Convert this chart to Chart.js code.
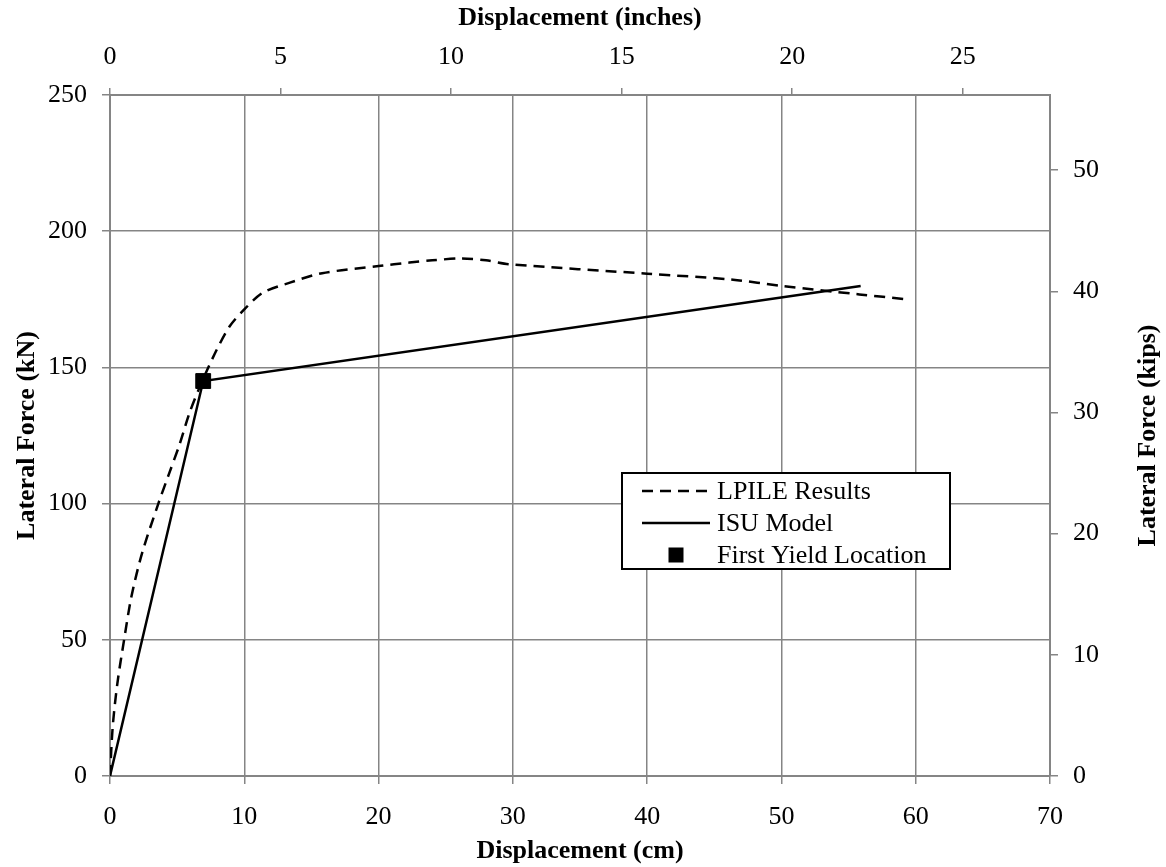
<!DOCTYPE html>
<html>
<head>
<meta charset="utf-8">
<script src="https://cdn.jsdelivr.net/npm/chart.js@4.4.1/dist/chart.umd.min.js"></script>
<style>
  html, body { margin: 0; padding: 0; background: #fff; }
  #wrap { width: 1166px; height: 867px; }
</style>
</head>
<body>
<div id="wrap"><canvas id="chart" width="1166" height="867"></canvas></div>
<script>
// values
var lpileDisp  = [0, 0.2, 0.55, 1.05, 1.6, 2.4, 3.6, 4.4, 5.2, 5.9, 6.7, 7.8, 8.9, 10, 11.4, 13.4, 15.8, 20, 22.3, 24, 26.2, 28, 29.7, 40, 46.4, 50, 55.8, 59.3];
var lpileForce = [0, 18, 34, 50, 66, 82, 100, 111, 122, 133, 143, 155, 165, 171.3, 177.5, 181.1, 184.6, 187.2, 188.5, 189.3, 190, 189.3, 187.9, 184.4, 182.2, 179.9, 176.8, 175];

var isuDisp  = [0, 6.94, 55.9];
var isuForce = [0, 145, 179.9];

var yieldDisp  = [6.94];
var yieldForce = [145];

var cmTicks   = [0, 70, 10];     // min, max, step
var kNTicks   = [0, 250, 50];
var inchStep  = 5;
var kipStep   = 10;

var CM_PER_IN = 2.54;
var KN_PER_KIP = 4.448222;

function pts(xs, ys) {
  var out = [];
  for (let i = 0; i < xs.length; i++) out.push({x: xs[i], y: ys[i]});
  return out;
}

var FONT = 'Liberation Serif, Times New Roman, serif';
var GRID = '#858585';

var legendBox = {
  id: 'legendBox',
  afterDraw: function(chart) {
    var ctx = chart.ctx;
    var left = 622, top = 473, w = 328, h = 96;
    ctx.save();
    ctx.fillStyle = '#fff';
    ctx.fillRect(left, top, w, h);
    ctx.strokeStyle = '#000';
    ctx.lineWidth = 2;
    ctx.strokeRect(left, top, w, h);
    ctx.font = '26px ' + FONT;
    ctx.fillStyle = '#000';
    ctx.textBaseline = 'middle';
    chart.data.datasets.forEach(function(ds, i) {
      var cy = top + 18 + i * 32;
      if (ds.showLine) {
        ctx.beginPath();
        ctx.setLineDash(ds.borderDash || []);
        ctx.lineWidth = ds.borderWidth;
        ctx.strokeStyle = ds.borderColor;
        ctx.moveTo(642, cy);
        ctx.lineTo(710, cy);
        ctx.stroke();
        ctx.setLineDash([]);
      } else {
        ctx.fillRect(676 - 7.5, cy - 7.5, 15, 15);
      }
      ctx.fillText(ds.label, 717, cy + 1);
    });
    // right axis title, reading bottom to top like the left one
    var ca = chart.chartArea;
    ctx.font = 'bold 26px ' + FONT;
    ctx.textAlign = 'center';
    ctx.translate(1148, (ca.top + ca.bottom) / 2);
    ctx.rotate(-Math.PI / 2);
    ctx.fillText('Lateral Force (kips)', 0, 0);
    ctx.restore();
  }
};

var tickFont = { family: FONT, size: 26 };
var titleFont = { family: FONT, size: 26, weight: 'bold' };

var ctx = document.getElementById('chart');
var chart = new Chart(ctx, {
  type: 'scatter',
  data: {
    datasets: [
      {
        label: 'LPILE Results',
        data: pts(lpileDisp, lpileForce),
        showLine: true,
        borderColor: '#000',
        borderWidth: 2.5,
        borderDash: [11, 7],
        pointRadius: 0,
        tension: 0.3,
        xAxisID: 'x', yAxisID: 'y'
      },
      {
        label: 'ISU Model',
        data: pts(isuDisp, isuForce),
        showLine: true,
        borderColor: '#000',
        borderWidth: 2.5,
        pointRadius: 0,
        xAxisID: 'x', yAxisID: 'y'
      },
      {
        label: 'First Yield Location',
        data: pts(yieldDisp, yieldForce),
        showLine: false,
        pointStyle: 'rect',
        pointRadius: 10.5,
        backgroundColor: '#000',
        borderColor: '#000',
        borderWidth: 1,
        xAxisID: 'x', yAxisID: 'y'
      }
    ]
  },
  options: {
    responsive: false,
    devicePixelRatio: 1,
    animation: false,
    layout: { padding: 0 },
    plugins: { legend: { display: false }, tooltip: { enabled: false } },
    scales: {
      x: {
        type: 'linear', position: 'bottom',
        min: cmTicks[0], max: cmTicks[1],
        ticks: { stepSize: cmTicks[2], font: tickFont, color: '#000', padding: 18, maxRotation: 0 },
        grid: { color: GRID, lineWidth: 1.5, tickLength: 8 },
        border: { color: GRID, width: 2 },
        title: { display: true, text: 'Displacement (cm)', font: titleFont, color: '#000', padding: { top: 0, bottom: 0 } },
        afterFit: function(s) { s.height = 91; }
      },
      x2: {
        type: 'linear', position: 'top',
        min: 0, max: cmTicks[1] / CM_PER_IN,
        ticks: { stepSize: inchStep, includeBounds: false, font: tickFont, color: '#000', padding: 15, maxRotation: 0 },
        grid: { color: GRID, lineWidth: 1.5, tickLength: 7, drawOnChartArea: false },
        border: { color: GRID, width: 2 },
        title: { display: true, text: 'Displacement (inches)', font: titleFont, color: '#000', padding: { top: 3, bottom: 0 } },
        afterFit: function(s) { s.height = 95; }
      },
      y: {
        type: 'linear', position: 'left',
        min: kNTicks[0], max: kNTicks[1],
        ticks: { stepSize: kNTicks[2], font: tickFont, color: '#000', padding: 15 },
        grid: { color: GRID, lineWidth: 1.5, tickLength: 8 },
        border: { color: GRID, width: 2 },
        title: { display: true, text: 'Lateral Force (kN)', font: titleFont, color: '#000', padding: { top: 12, bottom: 0 } },
        afterFit: function(s) { s.width = 110; }
      },
      y2: {
        type: 'linear', position: 'right',
        min: 0, max: kNTicks[1] / KN_PER_KIP,
        ticks: { stepSize: kipStep, includeBounds: false, font: tickFont, color: '#000', padding: 15 },
        grid: { color: GRID, lineWidth: 1.5, tickLength: 8, drawOnChartArea: false },
        border: { color: GRID, width: 2 },
        afterFit: function(s) { s.width = 116; }
      }
    }
  },
  plugins: [legendBox]
});
</script>
</body>
</html>
